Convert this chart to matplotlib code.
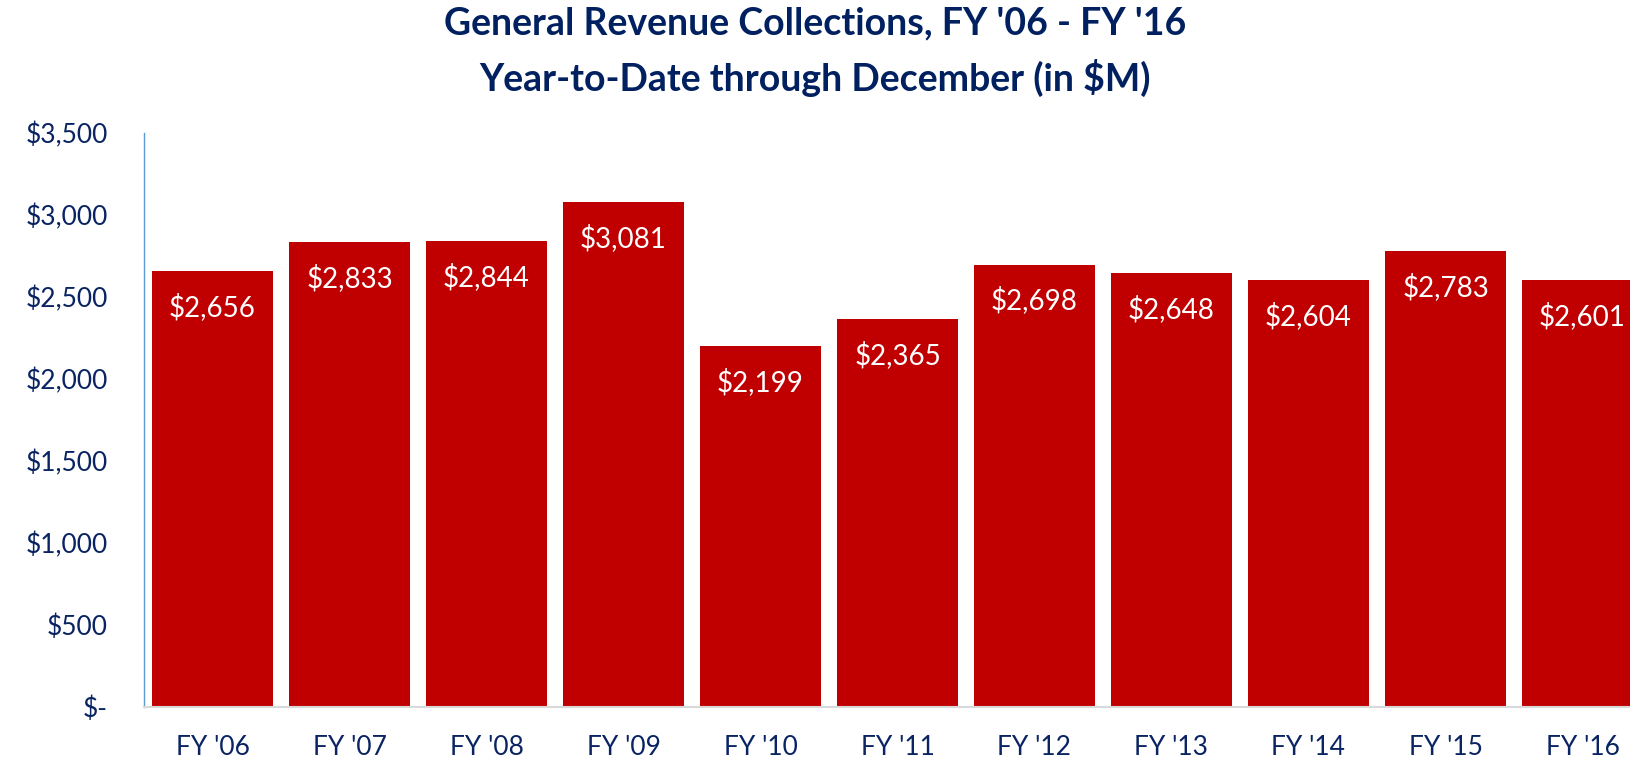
import matplotlib.pyplot as plt

years = ["FY '06", "FY '07", "FY '08", "FY '09", "FY '10", "FY '11",
         "FY '12", "FY '13", "FY '14", "FY '15", "FY '16"]
revenue = [2656, 2833, 2844, 3081, 2199, 2365, 2698, 2648, 2604, 2783, 2601]
y_ticks = [0, 500, 1000, 1500, 2000, 2500, 3000, 3500]

navy = '#0A2463'
plt.rcParams['font.family'] = ['Lato', 'DejaVu Sans']

fig = plt.figure(figsize=(16.3, 7.62), dpi=100)
# axes run past the right edge so the last bar is cut off like the original
ax = fig.add_axes([144 / 1630, 55 / 762, 1507 / 1630, 574 / 762])

x = range(len(years))
bars = ax.bar(x, revenue, width=0.88, color='#C00000')

for b, v in zip(bars, revenue):
    ax.annotate(f"${v:,}", (b.get_x() + b.get_width() / 2, v),
                xytext=(0, -36), textcoords='offset pixels',
                ha='center', va='center', color='white', fontsize=20)

ax.set_xlim(-0.5, len(years) - 0.5)
ax.set_ylim(0, 3500)
ax.set_xticks(list(x))
ax.set_xticklabels(years)
ax.set_yticks(y_ticks)
ax.set_yticklabels([f"${v:,}" if v else "$-" for v in y_ticks])
ax.tick_params(axis='both', length=0, labelsize=19, labelcolor=navy)
ax.tick_params(axis='x', pad=20)
ax.tick_params(axis='y', pad=26)

for s in ['top', 'right']:
    ax.spines[s].set_visible(False)
ax.spines['left'].set_color('#5B9BD5')
ax.spines['left'].set_linewidth(1)
ax.spines['bottom'].set_color('#D9D9D9')
ax.spines['bottom'].set_linewidth(1.5)

fig.text(0.5, 1 - 23 / 762, "General Revenue Collections, FY '06 - FY '16",
         ha='center', va='center', fontsize=27, fontweight='bold', color='#002060')
fig.text(0.5, 1 - 78 / 762, "Year-to-Date through December (in $M)",
         ha='center', va='center', fontsize=27, fontweight='bold', color='#002060')

fig.savefig('out.png', dpi=100)
